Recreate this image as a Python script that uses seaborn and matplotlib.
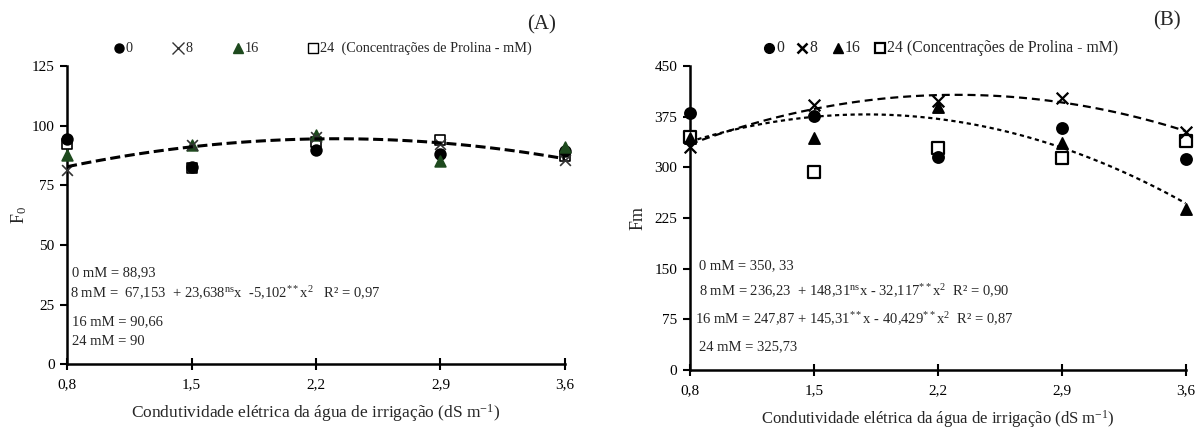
import numpy as np
import pandas as pd
import matplotlib
matplotlib.use("Agg")
import matplotlib.pyplot as plt
import seaborn as sns
from matplotlib.lines import Line2D

# ---------------- data ----------------
ce = [0.8, 1.5, 2.2, 2.9, 3.6]
ce_labels = ["0,8", "1,5", "2,2", "2,9", "3,6"]

# Panel A: F0
f0_0 = [94.5, 82.8, 89.8, 88.2, 89.5]
f0_8 = [81.5, 92.0, 95.2, 92.3, 85.8]
f0_16 = [87.8, 91.8, 96.0, 85.0, 91.0]
f0_24 = [92.5, 82.3, 93.2, 94.2, 87.5]
f0_coef_8 = [67.153, 23.638, -5.102]
f0_yticks = [0, 25, 50, 75, 100, 125]

# Panel B: Fm
fm_0 = [380, 376, 316, 359, 312]
fm_8 = [330, 393, 398, 403, 352]
fm_16 = [343, 343, 389, 336, 239]
fm_24 = [345, 293, 329, 314, 339]
fm_coef_8 = [236.23, 148.31, -32.117]
fm_coef_16 = [247.87, 145.31, -40.429]
fm_yticks = [0, 75, 150, 225, 300, 375, 450]

eq_A = ["0 mM = 88,93",
        "8 mM =  67,153  + 23,638$^{\\mathrm{ns}}$x  -5,102$^{**}$x$^{2}$   R² = 0,97",
        "16 mM = 90,66",
        "24 mM = 90"]
eq_B = ["0 mM = 350, 33",
        "8 mM = 236,23  + 148,31$^{\\mathrm{ns}}$x - 32,117$^{**}$x$^{2}$  R² = 0,90",
        "16 mM = 247,87 + 145,31$^{**}$x - 40,429$^{**}$x$^{2}$  R² = 0,87",
        "24 mM = 325,73"]

legend_A = ["0", "8", "16", "24  (Concentrações de Prolina - mM)"]
legend_B = ["0", "8", "16", "24 (Concentrações de Prolina - mM)"]

xlabel = "Condutividade elétrica da água de irrigação (dS m$^{-1}$)"

# ---------------- style ----------------
sns.set_style("ticks")
plt.rcParams['font.family'] = ['Liberation Serif', 'DejaVu Serif']
plt.rcParams['mathtext.fontset'] = 'custom'
plt.rcParams['mathtext.rm'] = 'Liberation Serif'
plt.rcParams['mathtext.it'] = 'Liberation Serif:italic'
plt.rcParams['mathtext.bf'] = 'Liberation Serif:bold'

W, H = 1197, 432
fig = plt.figure(figsize=(W / 100, H / 100), dpi=100)
axA = fig.add_axes([0.056, 0.157, 0.416, 0.690])
axB = fig.add_axes([0.5764, 0.1435, 0.414, 0.7035])

green = "#1e4a1e"


def scatter(ax, y, marker, color, face, s, lw=1.2):
    df = pd.DataFrame({"x": ce, "y": y})
    sns.scatterplot(data=df, x="x", y="y", ax=ax, marker=marker, s=s,
                    color=face, edgecolor=color, linewidth=lw,
                    clip_on=False, zorder=3, legend=False)


def curve(ax, coef, dashes, lw):
    xs = np.linspace(ce[0], ce[-1], 120)
    ys = coef[0] + coef[1] * xs + coef[2] * xs ** 2
    df = pd.DataFrame({"x": xs, "y": ys})
    sns.lineplot(data=df, x="x", y="y", ax=ax, color="black",
                 linewidth=lw, legend=False, zorder=4)
    ax.lines[-1].set_dashes(dashes)


# Panel A
scatter(axA, f0_24, "s", "black", "white", 55, 1.2)
scatter(axA, f0_0, "o", "black", "black", 60)
scatter(axA, f0_16, "^", green, green, 60)
scatter(axA, f0_8, "x", "#333333", "#333333", 60, 1.2)
curve(axA, f0_coef_8, (3.3, 1.5), 2.2)

# Panel B
scatter(axB, fm_24, "s", "black", "white", 70, 1.6)
scatter(axB, fm_0, "o", "black", "black", 65)
scatter(axB, fm_16, "^", "black", "black", 65)
scatter(axB, fm_8, "x", "black", "black", 70, 1.6)
curve(axB, fm_coef_8, (3.6, 2.2), 1.6)
curve(axB, fm_coef_16, (1.9, 1.6), 1.6)

for ax, yt, ylab, lx, xfs, xpad in [(axA, f0_yticks, "F$_{0}$", -0.076, 12.5, 8),
                                    (axB, fm_yticks, "Fm", -0.087, 12, 8)]:
    ax.set_xlim(ce[0], ce[-1])
    ax.set_ylim(yt[0], yt[-1])
    ax.set_xticks(ce)
    ax.set_xticklabels(ce_labels)
    ax.set_yticks(yt)
    ax.set_yticklabels([str(v) for v in yt])
    for side in ["top", "right"]:
        ax.spines[side].set_visible(False)
    for side in ["left", "bottom"]:
        ax.spines[side].set_linewidth(1.8)
        ax.spines[side].set_color("black")
    ax.tick_params(axis="y", direction="out", length=5, width=1.5,
                   labelsize=11, colors="black", pad=4)
    ax.tick_params(axis="x", direction="inout", length=8, width=1.5,
                   labelsize=11, colors="black", pad=6)
    ax.set_xlabel(xlabel, fontsize=xfs, labelpad=xpad)
    ax.set_ylabel(ylab, fontsize=13)
    ax.yaxis.set_label_coords(lx, 0.5)

# equations
for txt, yv, xv in zip(eq_A, [38.5, 29.8, 17.9, 9.4], [0.83, 0.815, 0.83, 0.83]):
    axA.text(xv, yv, txt, fontsize=10.5, va="center", ha="left")
for txt, yv, xv in zip(eq_B, [155, 117, 75, 35], [0.85, 0.85, 0.83, 0.85]):
    axB.text(xv, yv, txt, fontsize=10.5, va="center", ha="left")


# legends (placed in pixel positions of the figure)
def manual_legend(specs, labels, xs_px, y_px, fontsize):
    fy = 1 - y_px / H
    for (mk, kw), lab, xp in zip(specs, labels, xs_px):
        fx = xp / W
        fig.add_artist(Line2D([fx], [fy], transform=fig.transFigure,
                              ls="", marker=mk, **kw))
        fig.text(fx + 7 / W, fy, lab, fontsize=fontsize,
                 va="center", ha="left")


specA = [("o", dict(color="black", markersize=6.5)),
         ("x", dict(color="#333333", markersize=8, mew=1.0)),
         ("^", dict(color=green, markersize=6.5)),
         ("s", dict(mfc="white", mec="black", markersize=6.5, mew=1.0))]
specB = [("o", dict(color="black", markersize=7)),
         ("x", dict(color="black", markersize=7.5, mew=1.8)),
         ("^", dict(color="black", markersize=7)),
         ("s", dict(mfc="white", mec="black", markersize=7, mew=1.6))]

manual_legend(specA, legend_A, [119, 178, 238, 313], 48, 10.3)
manual_legend(specB, legend_B, [769, 802, 838, 880], 48, 11.3)

fig.text(0.4528, 0.942, "(A)", fontsize=15, ha="center", va="center")
fig.text(0.975, 0.952, "(B)", fontsize=15, ha="center", va="center")

fig.savefig("out.png", dpi=100)
